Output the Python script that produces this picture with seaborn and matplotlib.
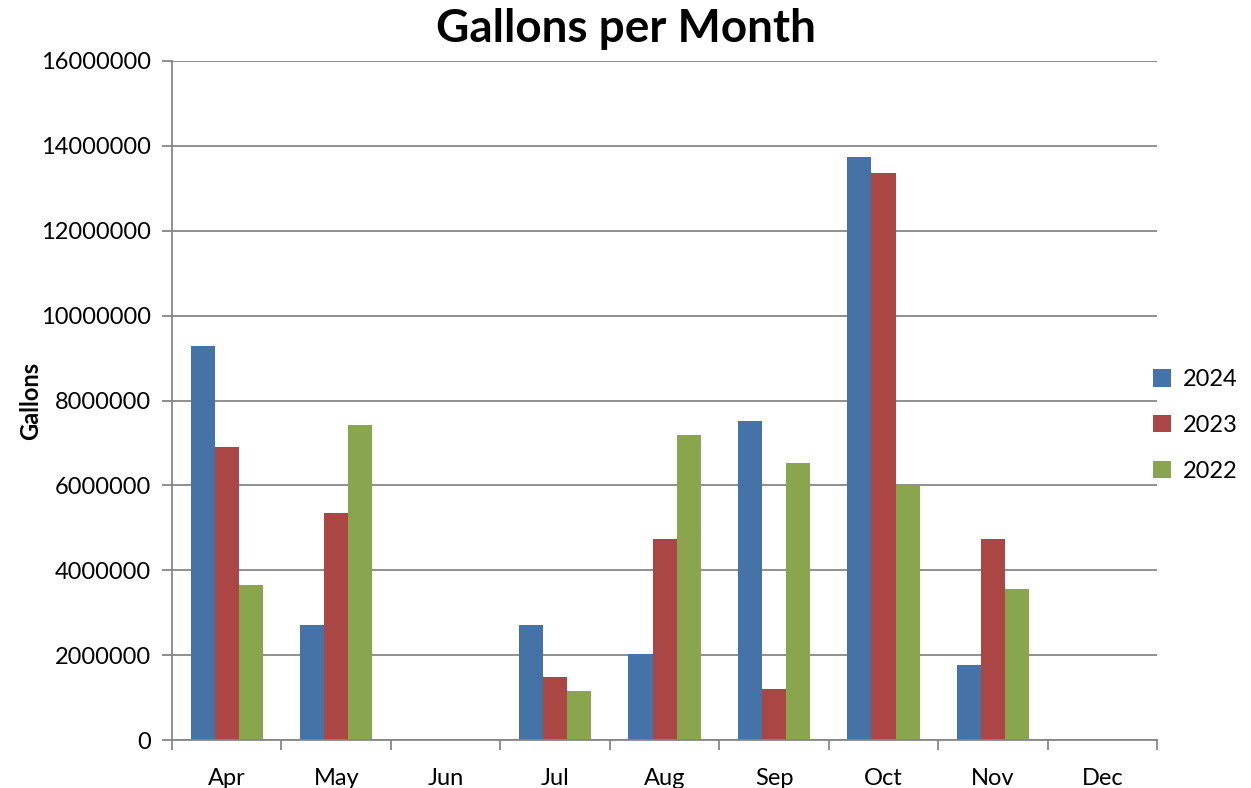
import numpy as np
import pandas as pd
import matplotlib.pyplot as plt
import seaborn as sns

months = ['Apr', 'May', 'Jun', 'Jul', 'Aug', 'Sep', 'Oct', 'Nov', 'Dec']
years = ['2024', '2023', '2022']
gal_2024 = [9280000, 2710000, 0, 2710000, 2030000, 7520000, 13740000, 1770000, 0]
gal_2023 = [6900000, 5350000, 0, 1480000, 4740000, 1200000, 13360000, 4740000, 0]
gal_2022 = [3650000, 7420000, 0, 1150000, 7190000, 6530000, 5980000, 3560000, 0]
colors = ['#4572A7', '#AA4643', '#89A54E']

df = pd.DataFrame({
    'month': months * 3,
    'year': ['2024'] * 9 + ['2023'] * 9 + ['2022'] * 9,
    'gallons': gal_2024 + gal_2023 + gal_2022,
})

sns.set_theme(style="white")
plt.rcParams['font.family'] = ['Lato', 'DejaVu Sans']
plt.rcParams['text.color'] = 'black'
plt.rcParams['xtick.color'] = 'black'
plt.rcParams['ytick.color'] = 'black'
plt.rcParams['axes.labelcolor'] = 'black'

fig = plt.figure(figsize=(12.51, 7.88), dpi=100)
ax = fig.add_axes([0.1375, 0.0609, 0.7875, 0.8617])

sns.barplot(data=df, x='month', y='gallons', hue='year', order=months,
            hue_order=years, palette=colors, width=0.66, saturation=1,
            linewidth=0, ax=ax, legend=True)

grid_c = '#878787'
ax.set_ylim(0, 16000000)
ax.set_xlim(-0.5, len(months) - 0.5)
ax.set_yticks(np.arange(0, 16000001, 2000000))
ax.set_yticklabels([str(v) for v in range(0, 16000001, 2000000)], fontsize=17)
ax.yaxis.grid(True, color=grid_c, linewidth=1.3)
ax.set_axisbelow(True)
ax.set_xticks(np.arange(-0.5, len(months), 1.0), minor=True)
ax.tick_params(axis='x', which='major', length=0, pad=20, labelsize=17)
ax.tick_params(axis='x', which='minor', length=7, width=1.3, color=grid_c, bottom=True)
ax.tick_params(axis='y', length=7, width=1.3, color=grid_c, labelcolor='black',
               left=True, pad=8)
for s in ['top', 'right']:
    ax.spines[s].set_visible(False)
for s in ['left', 'bottom']:
    ax.spines[s].set_color(grid_c)
    ax.spines[s].set_linewidth(1.3)
ax.set_xlabel('')
ax.set_ylabel('Gallons', fontsize=17, fontweight='bold', labelpad=-1)
fig.suptitle('Gallons per Month', fontsize=33, fontweight='bold', x=0.5, y=0.99,
             va='top')

handles, labels = ax.get_legend_handles_labels()
ax.get_legend().remove()
fig.legend(handles, labels, loc='center left', bbox_to_anchor=(0.905, 0.46),
           frameon=False, fontsize=17, handlelength=0.75, handleheight=0.75,
           labelspacing=1.05, handletextpad=0.5)

fig.savefig('out.png', dpi=100)
